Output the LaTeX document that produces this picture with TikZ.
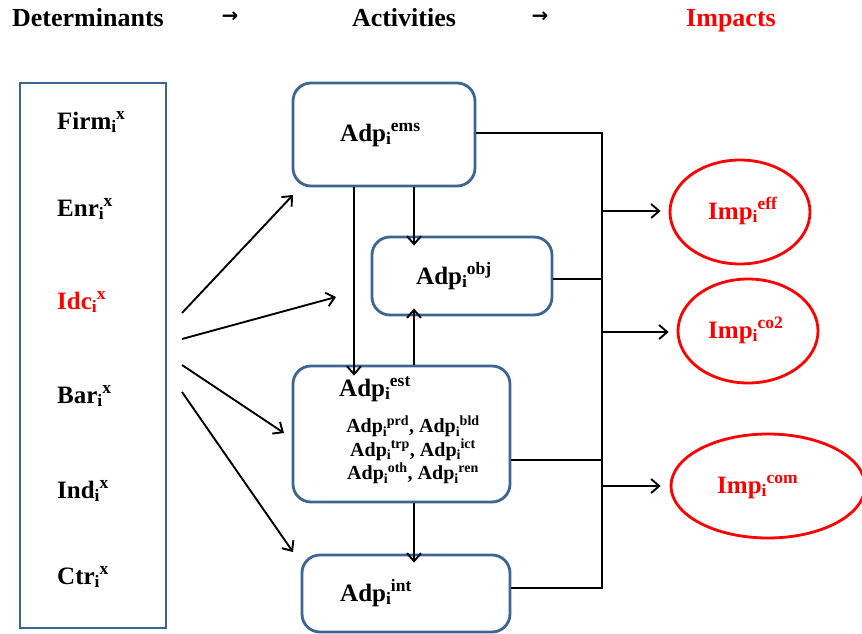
\documentclass[tikz,border=0pt]{standalone}
\usepackage{fontspec}
\setmainfont{Liberation Serif}
\newfontfamily\arrfont{DejaVu Sans}
\usetikzlibrary{arrows.meta,shapes.geometric}
\definecolor{boxblue}{HTML}{3D6495}
\definecolor{impred}{HTML}{FF0000}
\newcommand\SubSup[2]{\textsubscript{#1}\kern-0.5pt\textsuperscript{#2}}
\begin{document}
\begin{tikzpicture}[x=1pt,y=-1pt,
  every node/.style={font=\bfseries\fontsize{25}{29}\selectfont, inner sep=0pt},
  hdr/.style={font=\bfseries\fontsize{26}{30}\selectfont, anchor=base},
  actbox/.style={draw=boxblue, line width=2.8pt, rounded corners=18pt},
  detbox/.style={draw=boxblue, line width=2.8pt},
  imp/.style={ellipse, draw=impred, line width=2.8pt, text=impred},
  conn/.style={line width=1.9pt},
  arr/.style={conn, -{Straight Barb[length=8pt,width=14pt]}},
  small/.style={font=\bfseries\fontsize{20}{23.5}\selectfont, align=center},
  harr/.style={font=\arrfont\bfseries\fontsize{20}{22}\selectfont}]
\useasboundingbox (0,0) rectangle (862,634);
\fill[white] (0,0) rectangle (862,634);
% headers
\node[hdr] (h1) at (88,27) {Determinants};
\node[harr] (a1) at (230,17) {→};
\node[hdr] (h2) at (404,27) {Activities};
\node[harr] (a2) at (540,17) {→};
\node[hdr, text=impred] (h3) at (731,27) {Impacts};
% determinants
\node[detbox, minimum width=146pt, minimum height=545pt] (det) at (93,355.5) {};
\node[anchor=base west] (firm) at (57,129) {Firm\SubSup{i}{x}};
\node[anchor=base west] (enr) at (57,216) {Enr\SubSup{i}{x}};
\node[anchor=base west, text=impred] (idc) at (57,309) {Idc\SubSup{i}{x}};
\node[anchor=base west] (bar) at (57,403) {Bar\SubSup{i}{x}};
\node[anchor=base west] (ind) at (57,498) {Ind\SubSup{i}{x}};
\node[anchor=base west] (ctr) at (57,584) {Ctr\SubSup{i}{x}};
% activities
\node[actbox, minimum width=182pt, minimum height=103pt] (ems) at (384,134.5) {};
\node[anchor=base west] (emst) at (340,141) {Adp\SubSup{i}{ems}};
\node[actbox, minimum width=180pt, minimum height=78pt] (obj) at (462,276) {};
\node[anchor=base west] (objt) at (416,284) {Adp\SubSup{i}{obj}};
\node[actbox, minimum width=217pt, minimum height=136pt] (est) at (401.5,434) {};
\node[anchor=base west] (estt) at (339,396) {Adp\SubSup{i}{est}};
\node[small] (estl) at (413,450) {Adp\SubSup{i}{prd}, Adp\SubSup{i}{bld}\\Adp\SubSup{i}{trp}, Adp\SubSup{i}{ict}\\Adp\SubSup{i}{oth}, Adp\SubSup{i}{ren}};
\node[actbox, minimum width=208pt, minimum height=77pt] (int) at (406,593.5) {};
\node[anchor=base west] (intt) at (340,601) {Adp\SubSup{i}{int}};
% impacts
\node[imp, minimum width=140pt, minimum height=104pt] (eff) at (740,212) {};
\node[anchor=base west, text=impred] (efft) at (708,219) {Imp\SubSup{i}{eff}};
\node[imp, minimum width=140pt, minimum height=104pt] (co2) at (748,331) {};
\node[anchor=base west, text=impred] (co2t) at (708,338) {Imp\SubSup{i}{co2}};
\node[imp, minimum width=194pt, minimum height=104pt] (com) at (768,486) {};
\node[anchor=base west, text=impred] (comt) at (717,493) {Imp\SubSup{i}{com}};
% bus
\coordinate (bt) at (602,133);
\coordinate (bb) at (602,588);
\draw[conn] (ems.east |- bt) -- (bt) -- (bb) -- (int.east |- bb);
\draw[conn] (obj.east |- 0,279) -- (602,279);
\draw[conn] (est.east |- 0,460) -- (602,460);
\draw[arr] (602,211) -- ([xshift=-8pt]eff.west |- 0,211);
\draw[arr] (602,332) -- ([xshift=-8pt]co2.west |- 0,332);
\draw[arr] (602,486) -- ([xshift=-9pt]com.west |- 0,486);
% vertical arrows
\draw[arr] (ems.south -| 414,0) -- ([yshift=-10pt]obj.north -| 414,0);
\draw[arr] (ems.south -| 354,0) -- ([yshift=-11pt]est.north -| 354,0);
\draw[arr] (est.north -| 414,0) -- ([yshift=8pt]obj.south -| 414,0);
\draw[arr] (est.south -| 414,0) -- ([yshift=-9pt]int.north -| 414,0);
% diagonal arrows
\coordinate (s1) at (182,313);
\coordinate (s2) at (182,339);
\coordinate (s3) at (182,365);
\coordinate (s4) at (182,392);
\coordinate (e1) at (293,195);
\coordinate (e2) at (336,297);
\coordinate (e3) at (284,433);
\coordinate (e4) at (293,552);
\draw[arr] (s1) -- (e1);
\draw[arr] (s2) -- (e2);
\draw[arr] (s3) -- (e3);
\draw[arr] (s4) -- (e4);
\end{tikzpicture}
\end{document}
